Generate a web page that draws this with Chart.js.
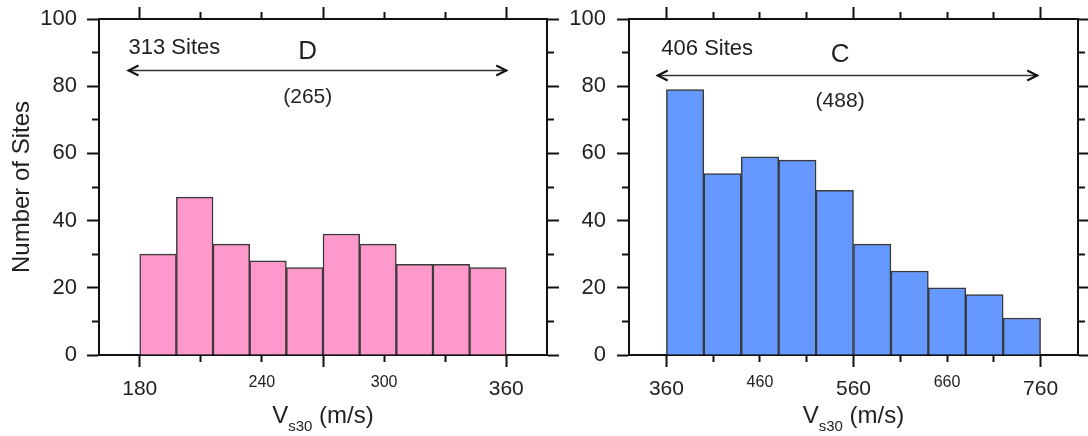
<!DOCTYPE html>
<html>
<head>
<meta charset="utf-8">
<script src="https://cdn.jsdelivr.net/npm/chart.js@4.4.0/dist/chart.umd.min.js"></script>
<style>
  html, body { margin: 0; padding: 0; background: #fff; }
  #wrap { position: relative; width: 1088px; height: 436px; }
  .panel { position: absolute; top: 0; height: 436px; }
  #left { left: 0; width: 563px; }
  #right { left: 563px; width: 525px; }
</style>
</head>
<body>
<div id="wrap">
  <div class="panel" id="left"><canvas id="chartD"></canvas></div>
  <div class="panel" id="right"><canvas id="chartC"></canvas></div>
</div>
<script>
// Site class D: Vs30 bins (m/s) and site counts
const binStartD = [180, 198, 216, 234, 252, 270, 288, 306, 324, 342];
const binWidthD = 18;
const countsD = [30, 47, 33, 28, 26, 36, 33, 27, 27, 26];
const ticksD = [180, 210, 240, 270, 300, 330, 360];
const majorTicksD = [180, 270, 360];
const bigLabelsD = [180, 360];
const smallLabelsD = [240, 300];

// Site class C
const binStartC = [360, 400, 440, 480, 520, 560, 600, 640, 680, 720];
const binWidthC = 40;
const countsC = [79, 54, 59, 58, 49, 33, 25, 20, 18, 11];
const ticksC = [360, 410, 460, 510, 560, 610, 660, 710, 760];
const majorTicksC = [360, 560, 760];
const bigLabelsC = [360, 560, 760];
const smallLabelsC = [460, 660];

// shared count axis
const yTicks = [0, 10, 20, 30, 40, 50, 60, 70, 80, 90, 100];
const yLabelled = [0, 20, 40, 60, 80, 100];

// text above each histogram
const sitesD = '313 Sites', classD = 'D', meanD = '(265)';
const sitesC = '406 Sites', classC = 'C', meanC = '(488)';

const FONT = '"Liberation Sans", Arial, sans-serif';
const INK = '#222';

const tickVal = c => (c && c.tick) ? c.tick.value : null;

// long ticks for majors, short (dashed-off) ticks for the rest
function tickGrid(majors, nearEnd) {
  const minor = c => tickVal(c) !== null && !majors.includes(tickVal(c));
  return {
    drawOnChartArea: false,
    drawTicks: true,
    tickLength: 12,
    tickWidth: 2,
    tickColor: '#111',
    tickBorderDash: c => minor(c) ? [6, 20] : [],
    tickBorderDashOffset: c => (minor(c) && nearEnd) ? 21 : 0
  };
}

const border = { display: true, color: '#111', width: 2 };

function xAxis(min, max, ticks, majors, big, small, height, position) {
  const top = position === 'top';
  return {
    type: 'linear',
    position: position,
    min: min,
    max: max,
    offset: false,
    border: border,
    grid: Object.assign(tickGrid(majors, top), { offset: false }),
    afterBuildTicks: s => { s.ticks = ticks.map(v => ({ value: v })); },
    afterFit: s => { s.height = height; s.paddingLeft = 0; s.paddingRight = 0; },
    ticks: {
      display: !top,
      autoSkip: false,
      maxRotation: 0,
      padding: 10,
      color: INK,
      callback: v => (big.includes(v) || small.includes(v)) ? String(v) : '',
      font: c => small.includes(tickVal(c))
        ? { family: FONT, size: 16, lineHeight: 0.69 }
        : { family: FONT, size: 21 }
    }
  };
}

function yAxis(width, position, pad, title) {
  const left = position === 'left';
  return {
    type: 'linear',
    position: position,
    min: 0,
    max: 100,
    border: border,
    grid: tickGrid(yLabelled, left),
    afterBuildTicks: s => { s.ticks = yTicks.map(v => ({ value: v })); },
    // fixed gutter; the top/bottom labels fit in the frame margins anyway
    afterFit: s => { s.width = width; s.paddingTop = 0; s.paddingBottom = 0; },
    ticks: {
      display: left,
      autoSkip: false,
      padding: pad,
      color: INK,
      font: { family: FONT, size: 22 },
      callback: v => yLabelled.includes(v) ? String(v) : ''
    },
    title: {
      display: !!title,
      text: title || '',
      color: INK,
      font: { family: FONT, size: 24 },
      padding: { top: 8, bottom: 0 }
    }
  };
}

// arrow, labels and the V_s30 axis title
const siteNotes = {
  id: 'siteNotes',
  afterDraw(chart, args, o) {
    const { ctx, chartArea } = chart;
    const x = chart.scales.x, y = chart.scales.y;
    ctx.save();

    const ay = Math.round(y.getPixelForValue(o.arrowY)) + 0.5;
    const x1 = x.getPixelForValue(o.arrowFrom);
    const x2 = x.getPixelForValue(o.arrowTo);
    ctx.strokeStyle = '#333';
    ctx.lineWidth = 1.5;
    ctx.beginPath();
    ctx.moveTo(x1, ay);
    ctx.lineTo(x2, ay);
    ctx.stroke();
    ctx.lineWidth = 2;
    ctx.strokeStyle = '#111';
    ctx.beginPath();
    ctx.moveTo(x1 + 11, ay - 5);
    ctx.lineTo(x1 + 1, ay);
    ctx.lineTo(x1 + 11, ay + 5);
    ctx.moveTo(x2 - 11, ay - 5);
    ctx.lineTo(x2 - 1, ay);
    ctx.lineTo(x2 - 11, ay + 5);
    ctx.stroke();

    ctx.fillStyle = INK;
    ctx.textBaseline = 'middle';
    ctx.textAlign = 'left';
    ctx.font = '22px ' + FONT;
    ctx.fillText(o.sites, x.getPixelForValue(o.sitesX), y.getPixelForValue(o.sitesY));
    ctx.textAlign = 'center';
    ctx.font = '26px ' + FONT;
    ctx.fillText(o.cls, x.getPixelForValue(o.clsX), y.getPixelForValue(o.clsY));
    ctx.font = '21px ' + FONT;
    ctx.fillText(o.mean, x.getPixelForValue(o.clsX), y.getPixelForValue(o.meanY));

    // V with subscript s30, then (m/s)
    const big = '24px ' + FONT, sub = '15px ' + FONT;
    const tail = ' (m/s)';
    ctx.font = big;
    const wV = ctx.measureText('V').width, wT = ctx.measureText(tail).width;
    ctx.font = sub;
    const wS = ctx.measureText('s30').width;
    let tx = (chartArea.left + chartArea.right) / 2 - (wV + wS + wT) / 2;
    const base = chartArea.bottom + 68;
    ctx.textAlign = 'left';
    ctx.textBaseline = 'alphabetic';
    ctx.font = big;
    ctx.fillText('V', tx, base);
    tx += wV;
    ctx.font = sub;
    ctx.fillText('s30', tx, base + 8);
    tx += wS;
    ctx.font = big;
    ctx.fillText(tail, tx, base);
    ctx.restore();
  }
};

function histogram(id, starts, width, counts, fill, scales, notes) {
  return new Chart(document.getElementById(id), {
    type: 'bar',
    data: {
      datasets: [{
        data: starts.map((s, i) => ({ x: s + width / 2, y: counts[i] })),
        backgroundColor: fill,
        borderColor: '#3a3a3a',
        borderWidth: 1.5,
        barPercentage: 1,
        categoryPercentage: 1
      }]
    },
    options: {
      responsive: true,
      maintainAspectRatio: false,
      animation: false,
      layout: { padding: 0 },
      scales: scales,
      plugins: {
        legend: { display: false },
        tooltip: { enabled: false },
        siteNotes: notes
      }
    },
    plugins: [siteNotes]
  });
}

histogram('chartD', binStartD, binWidthD, countsD, '#FF99CC', {
  x: xAxis(160, 380, ticksD, majorTicksD, bigLabelsD, smallLabelsD, 81, 'bottom'),
  x2: xAxis(160, 380, ticksD, majorTicksD, [], [], 19, 'top'),
  y: yAxis(99, 'left', 10, 'Number of Sites'),
  y2: yAxis(16, 'right', 10, null)
}, {
  sites: sitesD, cls: classD, mean: meanD,
  arrowFrom: 174, arrowTo: 360.5, arrowY: 84.8,
  sitesX: 174.5, sitesY: 91.5,
  clsX: 262.5, clsY: 90.3, meanY: 76.8
});

histogram('chartC', binStartC, binWidthC, countsC, '#6699FF', {
  x: xAxis(320, 800, ticksC, majorTicksC, bigLabelsC, smallLabelsC, 81, 'bottom'),
  x2: xAxis(320, 800, ticksC, majorTicksC, [], [], 19, 'top'),
  y: yAxis(66, 'left', 11, null),
  y2: yAxis(10, 'right', 10, null)
}, {
  sites: sitesC, cls: classC, mean: meanC,
  arrowFrom: 349.6, arrowTo: 757.5, arrowY: 83.3,
  sitesX: 354.6, sitesY: 91.1,
  clsX: 545.7, clsY: 89.3, meanY: 75.6
});
</script>
</body>
</html>
